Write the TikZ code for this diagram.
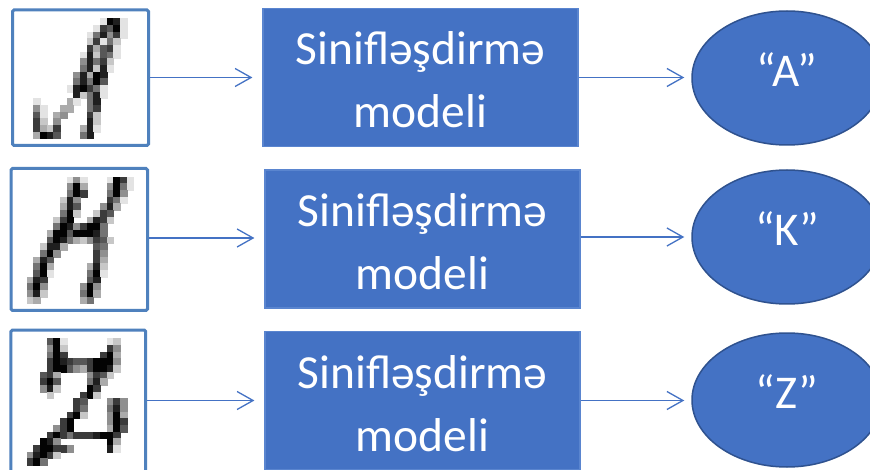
\documentclass[tikz,border=0pt]{standalone}
\usepackage{fontspec}
\setmainfont{Carlito}
\usetikzlibrary{arrows.meta,shapes.geometric}

\definecolor{accent}{HTML}{4472C4}
\definecolor{accentdark}{HTML}{2F528F}
\definecolor{frameblue}{HTML}{4F81BD}
\definecolor{edgeblue}{HTML}{5A85CF}

% --- pixel raster: each row is a string of digits 0..9 (darkness) ---
\newcount\pixcol
\def\pixcell{6.667}
\def\pixx{0}\def\pixy{0}\def\pixrow{0}
\def\pixline#1{\pixcol=0 \expandafter\pixnext#1\relax}
\def\pixnext#1{%
  \ifx#1\relax\else
    \ifnum#1>0
      \edef\pixshade{\the\numexpr#1*11\relax}%
      \fill[black!\pixshade,draw=black!\pixshade,line width=0.25pt]
        (\pixx+\the\pixcol*\pixcell,\pixy+\pixrow*\pixcell) rectangle ++(\pixcell,\pixcell);%
    \fi
    \advance\pixcol by 1
    \expandafter\pixnext
  \fi}
\newcommand\pixglyph[3]{%
  \def\pixx{#1}\def\pixy{#2}%
  \foreach \rowstr [count=\rr from 0] in {#3}{%
    \edef\pixrow{\rr}\pixline{\rowstr}}}

\tikzset{
  frame/.style={rectangle, draw=frameblue, line width=3pt, rounded corners=1.5pt, inner sep=0pt},
  model/.style={rectangle, fill=accent, draw=edgeblue, line width=1.2pt,
    minimum width=315pt, minimum height=138pt, inner sep=0pt},
  result/.style={ellipse, fill=accent, draw=accentdark, line width=1.5pt,
    minimum width=190pt, minimum height=134pt, inner sep=0pt, text=white,
    font=\fontsize{47}{56}\selectfont, text height=32pt, text depth=15pt},
  wtext/.style={text=white, font=\fontsize{47.5}{57}\selectfont, anchor=base, inner sep=0pt},
  flow/.style={draw=accent, line width=1.3pt, -{Straight Barb[length=16pt,width=18pt]}}
}

\begin{document}
\begin{tikzpicture}[x=1pt,y=-1pt]
\useasboundingbox (0,0) rectangle (870,470);
\clip (0,0) rectangle (870,470);
\fill[white] (0,0) rectangle (870,470);

% handwritten letter A
\pixglyph{13.33}{11.67}{
00000000000000000000,
00000000000001981000,
00000000000017691000,
00000000000158471000,
00000000000271520000,
00000000000736710000,
00000000001826510000,
00000000004857200000,
00000000005828100000,
00000000048398000000,
00000000058596000000,
00000000189751000000,
00000000082581000000,
00010000310580000000,
00041003300570000000,
00061034000720000000,
00072040000820000000,
00073270003810000000,
00039860005800000000,
00000000000000000000}

% handwritten letter K
\pixglyph{13.33}{170}{
00000000000000000000,
00000000141000197100,
00000000493000495100,
00000000597000594000,
00000002840000751000,
00000003860004830000,
00000005920027600000,
00000027900387200000,
00000059847995000000,
00000399699985000000,
00000698532476200000,
00002883000065000000,
00005940000074000000,
00038600000073000000,
00059300000382000000,
00069100000591000000,
00387000000680000000,
00594000004940000000,
00482000005930000000,
00230000003500000000}

% handwritten letter Z
\pixglyph{13.33}{331.67}{
00000000000000000000,
00000691000000120000,
00000492000000740000,
00000597000007930000,
00000798766799940000,
00000799643799820000,
00006730000476200000,
00007960000583000000,
00004820000970000000,
00000200007920000000,
00000000076000474000,
00000000075000584000,
00000000792000493000,
00000007900000497000,
00000047900000396000,
00000797577789970000,
00009840000000930000,
00079977400000810000,
00489720000000000000,
00795000000000000000}

% picture frames
\node[frame, minimum width=136pt, minimum height=135.5pt] (f1) at (80.6,77.75) {};
\node[frame, minimum width=136.5pt, minimum height=142pt] (f2) at (79.25,239.5) {};
\node[frame, minimum width=134.7pt, minimum height=150pt] (f3) at (78.3,405) {};

% classifier boxes
\node[model] (m1) at (420.5,77.5) {};
\node[model] (m2) at (422.5,239) {};
\node[model] (m3) at (422.5,400.5) {};

\foreach \k in {1,2,3}{
  \node[wtext] (s\k) at ([yshift=12.5pt]m\k.center) {Sinifləşdirmə};
  \node[wtext] (d\k) at ([yshift=-50.5pt]m\k.center) {modeli};
}

% predicted classes
\node[result] (r1) at (787,78) {“A”};
\node[result] (r2) at (787,237) {“K”};
\node[result] (r3) at (787,400) {“Z”};

% connectors
\draw[flow, shorten >=10pt] (f1.east |- m1.west) -- (m1.west);
\draw[flow, shorten >=10pt] (f2.east |- 0,238) -- (m2.west |- 0,238);
\draw[flow, shorten >=10pt] (f3.east |- m3.west) -- (m3.west);

\draw[flow, shorten >=7pt] (m1.east) -- (m1.east -| r1.west);
\draw[flow, shorten >=7pt] (m2.east |- r2.west) -- (r2.west);
\draw[flow, shorten >=7pt] (m3.east) -- (m3.east -| r3.west);
\end{tikzpicture}
\end{document}
